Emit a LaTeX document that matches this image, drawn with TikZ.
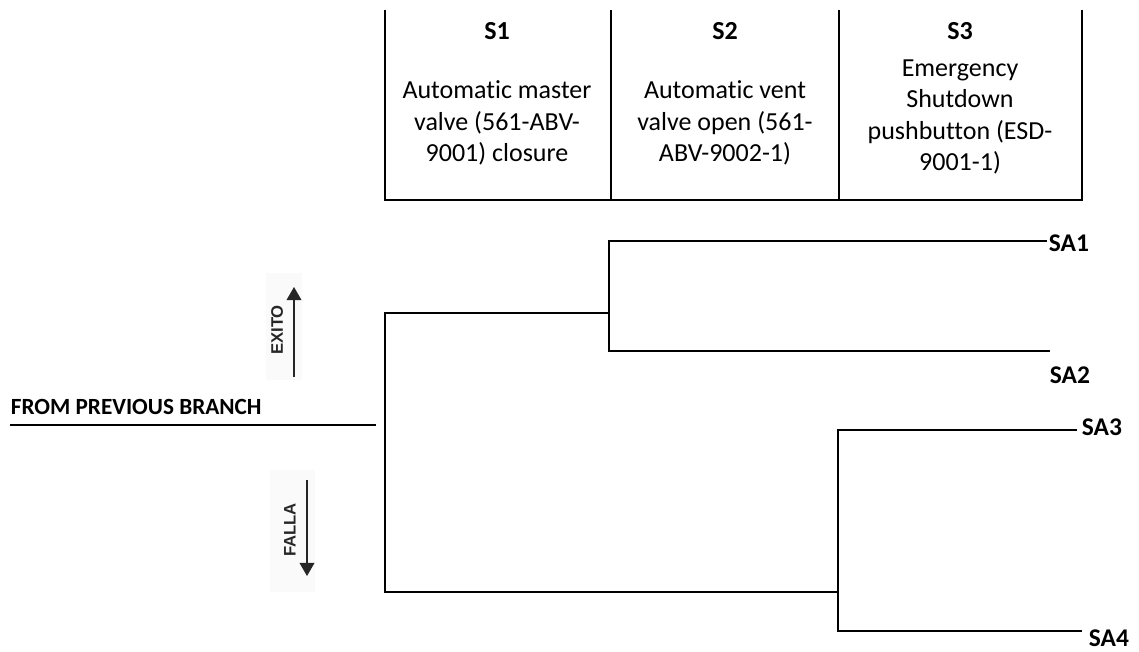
\documentclass[tikz,border=0pt]{standalone}
\usepackage{fontspec}
\setmainfont{Carlito}[Ligatures=NoCommon]
\newfontfamily\senseFont{Liberation Sans}
\usetikzlibrary{arrows.meta,positioning}

\begin{document}
\begin{tikzpicture}[x=0.02cm,y=-0.02cm,line width=1.1pt,
  hdr/.style={font=\fontsize{13.2}{15}\selectfont\bfseries, inner sep=0pt},
  colhdr/.style={font=\fontsize{14.8}{16}\selectfont\bfseries, inner sep=0pt},
  desc/.style={font=\fontsize{14.8}{17.8}\selectfont, align=center, inner sep=0pt},
  endst/.style={font=\fontsize{14.5}{16}\selectfont\bfseries, inner sep=0pt},
  sensetxt/.style={font=\senseFont\fontsize{9.5}{10}\selectfont\bfseries, text=black!85, rotate=90, inner sep=0pt},
  sense/.style={line width=0.6pt, draw=black!85, -{Triangle[length=7.5pt,width=8.5pt]}},
  faint/.style={fill=black!2, draw=none}]
  \useasboundingbox (0,0) rectangle (1139,652);

  % header of the event tree
  \draw (385,10) -- (385,200) -- (1082,200) -- (1082,10);
  \draw (611,10) -- (611,200);
  \draw (839,10) -- (839,200);
  \node[colhdr] (s1) at (497,31) {S1};
  \node[colhdr] (s2) at (725,31) {S2};
  \node[colhdr] (s3) at (960,31) {S3};
  \node[desc] (d1) at (497,123) {Automatic master\\valve (561-ABV-\\9001) closure};
  \node[desc] (d2) at (725,123) {Automatic vent\\valve open (561-\\ABV-9002-1)};
  \node[desc] (d3) at (960,117) {Emergency\\Shutdown\\pushbutton (ESD-\\9001-1)};

  % success / failure sense
  \fill[faint] (266,273) rectangle (302,380);
  \fill[faint] (270,470) rectangle (315,592);
  \coordinate (up0) at (294,377);
  \coordinate (up1) at (294,287);
  \coordinate (dn0) at (307,480);
  \coordinate (dn1) at (307,576);
  \draw[sense] (up0) -- (up1);
  \draw[sense] (dn0) -- (dn1);
  \node[sensetxt] (exito) at (277,330) {EXITO};
  \node[sensetxt] (falla) at (290,530) {FALLA};

  % initiating branch
  \node[hdr, anchor=base west] (prev) at (10,414) {FROM PREVIOUS BRANCH};
  \coordinate (in0) at (10,425);
  \coordinate (in1) at (376,425);
  \draw (in0) -- (in1);

  % branch points
  \coordinate (b1u) at (385,313);
  \coordinate (b1d) at (385,592);
  \coordinate (b2)  at (609,313);
  \coordinate (b2u) at (609,241);
  \coordinate (b2d) at (609,351);
  \coordinate (b3)  at (838,592);
  \coordinate (b3u) at (838,430);
  \coordinate (b3d) at (838,631);
  \coordinate (e1) at (1047,241);
  \coordinate (e2) at (1050,351);
  \coordinate (e3) at (1077,430);
  \coordinate (e4) at (1082,631);

  \draw (b2) -- (b1u) -- (b1d) -- (b3);
  \draw (e1) -- (b2u) -- (b2d) -- (e2);
  \draw (e3) -- (b3u) -- (b3d) -- (e4);

  % end states
  \node[endst, anchor=west] (sa1) at (1048,243) {SA1};
  \node[endst] (sa2) at (1070,375) {SA2};
  \node[endst, anchor=west] (sa3) at (1081,427) {SA3};
  \node[endst] (sa4) at (1109,638) {SA4};
\end{tikzpicture}
\end{document}
